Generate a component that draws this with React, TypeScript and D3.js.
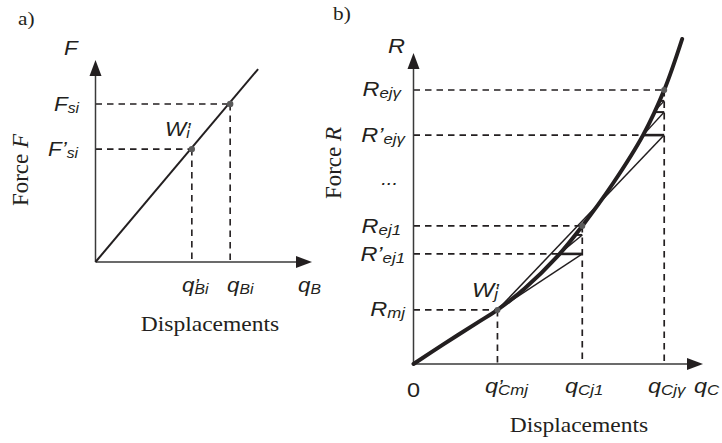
import React from 'react';
import * as d3 from 'd3';

const W = 722;
const H = 443;
const INK = '#231f20';
const AXIS = '#3a3a3a';
const SANS = '"Liberation Sans", Arial, sans-serif';
const SERIF = '"Liberation Serif", "Times New Roman", serif';
const SX = 1.12; // the source lettering is a little wide

// panel a: linear force–displacement (arbitrary units 0..100)
const aLineQ = [0, 75.1];
const aLineF = [0, 95.5];
const aMarkQ = [44.5, 62.2]; // q'Bi, qBi
const aMarkF = [55.9, 78.2]; // F'si, Fsi

// panel b: nonlinear curve
const bCurveQ = [0, 10.3, 22.1, 29.0, 38.3, 49.7, 58.3, 69.0, 79.3, 86.6, 92.8];
const bCurveR = [0, 6.3, 13.3, 17.4, 24.2, 34.6, 44.4, 58.2, 73.6, 88.1, 104.5];
const bMarkQ = [29.0, 58.3, 86.6]; // q'Cmj, qCj1, qCjγ
const bMarkR = [17.4, 44.4, 88.1]; // Rmj, Rej1, Rejγ
// iteration levels towards Rej1 and Rejγ (first one is R')
const bStep1R = [35.4, 41.5, 43.6];
const bStep1Q = [50.3, 55.6, 57.6];
const bStepGR = [73.6, 81.0, 84.6];
const bStepGQ = [79.3, 83.0, 84.8];

const xa = d3.scaleLinear([0, 100], [95.5, 312]);
const ya = d3.scaleLinear([0, 100], [262, 60]);
const xb = d3.scaleLinear([0, 100], [413.5, 703]);
const yb = d3.scaleLinear([0, 100], [364, 53]);

const DASH = '6.5,5';

function Arrow({ x, y, dir }: { x: number; y: number; dir: 'up' | 'right' }) {
  const len = 16;
  const hw = 6;
  const d =
    dir === 'up'
      ? `M${x},${y}L${x - hw},${y + len}L${x + hw},${y + len}Z`
      : `M${x},${y}L${x - len},${y - hw}L${x - len},${y + hw}Z`;
  return <path d={d} fill={INK} />;
}

function Axes({ x0, y0, xTip, yTip }: { x0: number; y0: number; xTip: number; yTip: number }) {
  return (
    <g>
      <line x1={x0} y1={y0} x2={x0} y2={yTip + 14} stroke={AXIS} strokeWidth={1.5} />
      <line x1={x0} y1={y0} x2={xTip - 14} y2={y0} stroke={AXIS} strokeWidth={1.5} />
      <Arrow x={x0} y={yTip} dir="up" />
      <Arrow x={xTip} y={y0} dir="right" />
    </g>
  );
}

function Sym({
  x, y, main, sub = '', prime = '', anchor = 'start', size = 20, subSize = 14,
}: {
  x: number; y: number; main: string; sub?: string; prime?: '' | 'after' | 'over';
  anchor?: 'start' | 'end' | 'middle'; size?: number; subSize?: number;
}) {
  return (
    <g transform={`translate(${x},${y}) scale(${SX},1)`}>
      <text x={0} y={0} textAnchor={anchor} fontFamily={SANS} fontStyle="italic"
        fontSize={size} fill={INK}>
        <tspan>{main}</tspan>
        {prime === 'after' && <tspan>’</tspan>}
        {prime === 'over' && <tspan fontSize={size * 0.9}>’</tspan>}
        {sub && (
          <tspan fontSize={subSize} dx={prime === 'over' ? -size * 0.2 : 0} dy={1.5}>{sub}</tspan>
        )}
      </text>
    </g>
  );
}

function Word({ x, y, children, size = 21 }: { x: number; y: number; children: React.ReactNode; size?: number }) {
  return (
    <g transform={`translate(${x},${y}) scale(${SX},1)`}>
      <text x={0} y={0} textAnchor="middle" fontFamily={SERIF} fontSize={size} fill={INK}>
        {children}
      </text>
    </g>
  );
}

function PanelA() {
  const line = d3.line<number>().x((_, i) => xa(aLineQ[i])).y(d => ya(d));
  return (
    <g>
      {aMarkQ.map((q, i) => (
        <g key={i}>
          <line x1={xa(0)} y1={ya(aMarkF[i])} x2={xa(q)} y2={ya(aMarkF[i])}
            stroke={INK} strokeWidth={1.6} strokeDasharray={DASH} />
          <line x1={xa(q)} y1={ya(aMarkF[i])} x2={xa(q)} y2={ya(0)}
            stroke={INK} strokeWidth={1.6} strokeDasharray={DASH} />
        </g>
      ))}
      <Axes x0={xa(0)} y0={ya(0)} xTip={xa(100)} yTip={ya(100)} />
      <path d={line(aLineF) || ''} fill="none" stroke={INK} strokeWidth={2} />
      {aMarkQ.map((q, i) => (
        <circle key={i} cx={xa(q)} cy={ya(aMarkF[i])} r={3.2} fill="#5a5a5a" />
      ))}

      <g transform={`translate(18,25) scale(${SX},1)`}>
        <text fontFamily={SERIF} fontSize={19} fill={INK}>a)</text>
      </g>
      <Sym x={64} y={55} main="F" />
      <Sym x={79} y={111} main="F" sub="si" anchor="end" />
      <Sym x={78} y={156} main="F" sub="si" prime="after" anchor="end" />
      <Sym x={165} y={136} main="W" sub="i" prime="over" />
      <Sym x={182} y={292} main="q" sub="Bi" prime="over" />
      <Sym x={227} y={292} main="q" sub="Bi" />
      <Sym x={298} y={292} main="q" sub="B" />
      <Word x={210} y={331}>Displacements</Word>
      <text transform="translate(28,170) rotate(-90)" textAnchor="middle" fontFamily={SERIF}
        fontSize={23} fill={INK}>
        Force <tspan fontStyle="italic">F</tspan>
      </text>
    </g>
  );
}

function PanelB() {
  const curve = d3.line<number>()
    .x((_, i) => xb(bCurveQ[i]))
    .y(d => yb(d))
    .curve(d3.curveCatmullRom);
  const wq = bMarkQ[0];
  const wr = bMarkR[0];
  const steps = [
    { q: bMarkQ[1], r: bMarkR[1], lr: bStep1R, lq: bStep1Q },
    { q: bMarkQ[2], r: bMarkR[2], lr: bStepGR, lq: bStepGQ },
  ];
  return (
    <g>
      {/* dashed guides */}
      {bMarkQ.map((q, i) => (
        <g key={i}>
          <line x1={xb(0)} y1={yb(bMarkR[i])} x2={xb(q)} y2={yb(bMarkR[i])}
            stroke={INK} strokeWidth={1.7} strokeDasharray={DASH} />
          <line x1={xb(q)} y1={yb(bMarkR[i])} x2={xb(q)} y2={yb(0)}
            stroke={INK} strokeWidth={1.7} strokeDasharray={DASH} />
        </g>
      ))}
      {steps.map((s, i) => (
        <line key={i} x1={xb(0)} y1={yb(s.lr[0])} x2={xb(s.lq[0])} y2={yb(s.lr[0])}
          stroke={INK} strokeWidth={1.7} strokeDasharray={DASH} />
      ))}
      <Axes x0={xb(0)} y0={yb(0)} xTip={xb(100)} yTip={yb(100)} />

      {/* secant iterations */}
      {steps.map((s, i) => (
        <g key={i}>
          <line x1={xb(wq)} y1={yb(wr)} x2={xb(s.q)} y2={yb(s.lr[0])} stroke={INK} strokeWidth={1.5} />
          {s.lr.map((r, k) => {
            const next = k + 1 < s.lr.length ? s.lr[k + 1] : s.r;
            return (
              <g key={k}>
                <line x1={xb(s.lq[k])} y1={yb(r)} x2={xb(s.q)} y2={yb(r)}
                  stroke={INK} strokeWidth={k === 0 ? 2.6 : 2} />
                <line x1={xb(s.lq[k])} y1={yb(r)} x2={xb(s.q)} y2={yb(next)}
                  stroke={INK} strokeWidth={1.4} />
              </g>
            );
          })}
        </g>
      ))}

      <path d={curve(bCurveR) || ''} fill="none" stroke={INK} strokeWidth={4} strokeLinecap="round" />
      {bMarkQ.map((q, i) => (
        <circle key={i} cx={xb(q)} cy={yb(bMarkR[i])} r={3} fill="#5a5a5a" />
      ))}

      <g transform={`translate(333,20) scale(${SX},1)`}>
        <text fontFamily={SERIF} fontSize={19} fill={INK}>b)</text>
      </g>
      <Sym x={388} y={53} main="R" size={21} />
      <Sym x={401} y={96} main="R" sub="ejγ" anchor="end" size={21} subSize={15} />
      <Sym x={405} y={142} main="R" sub="ejγ" prime="after" anchor="end" size={21} subSize={15} />
      <Sym x={398} y={185} main="..." anchor="end" size={18} />
      <Sym x={401} y={233} main="R" sub="ej1" anchor="end" size={21} subSize={15} />
      <Sym x={405} y={261} main="R" sub="ej1" prime="after" anchor="end" size={21} subSize={15} />
      <Sym x={405} y={316} main="R" sub="mj" anchor="end" size={21} subSize={15} />
      <Sym x={472} y={297} main="W" sub="j" prime="over" size={21} subSize={15} />
      <g transform={`translate(407,397) scale(${SX},1)`}>
        <text fontFamily={SANS} fontSize={21} fill={INK}>0</text>
      </g>
      <Sym x={485} y={393} main="q" sub="Cmj" prime="over" size={21} subSize={15} />
      <Sym x={565} y={393} main="q" sub="Cj1" size={21} subSize={15} />
      <Sym x={648} y={393} main="q" sub="Cjγ" size={21} subSize={15} />
      <Sym x={694} y={393} main="q" sub="C" size={21} subSize={15} />
      <Word x={579} y={432}>Displacements</Word>
      <text transform="translate(341,163) rotate(-90)" textAnchor="middle" fontFamily={SERIF}
        fontSize={23} fill={INK}>
        Force <tspan fontStyle="italic">R</tspan>
      </text>
    </g>
  );
}

export default function App() {
  return (
    <svg width={W} height={H} viewBox={`0 0 ${W} ${H}`}
      style={{ display: 'block', position: 'absolute', left: 0, top: 0, background: '#fff' }}>
      <rect width={W} height={H} fill="#fff" />
      <PanelA />
      <PanelB />
    </svg>
  );
}
